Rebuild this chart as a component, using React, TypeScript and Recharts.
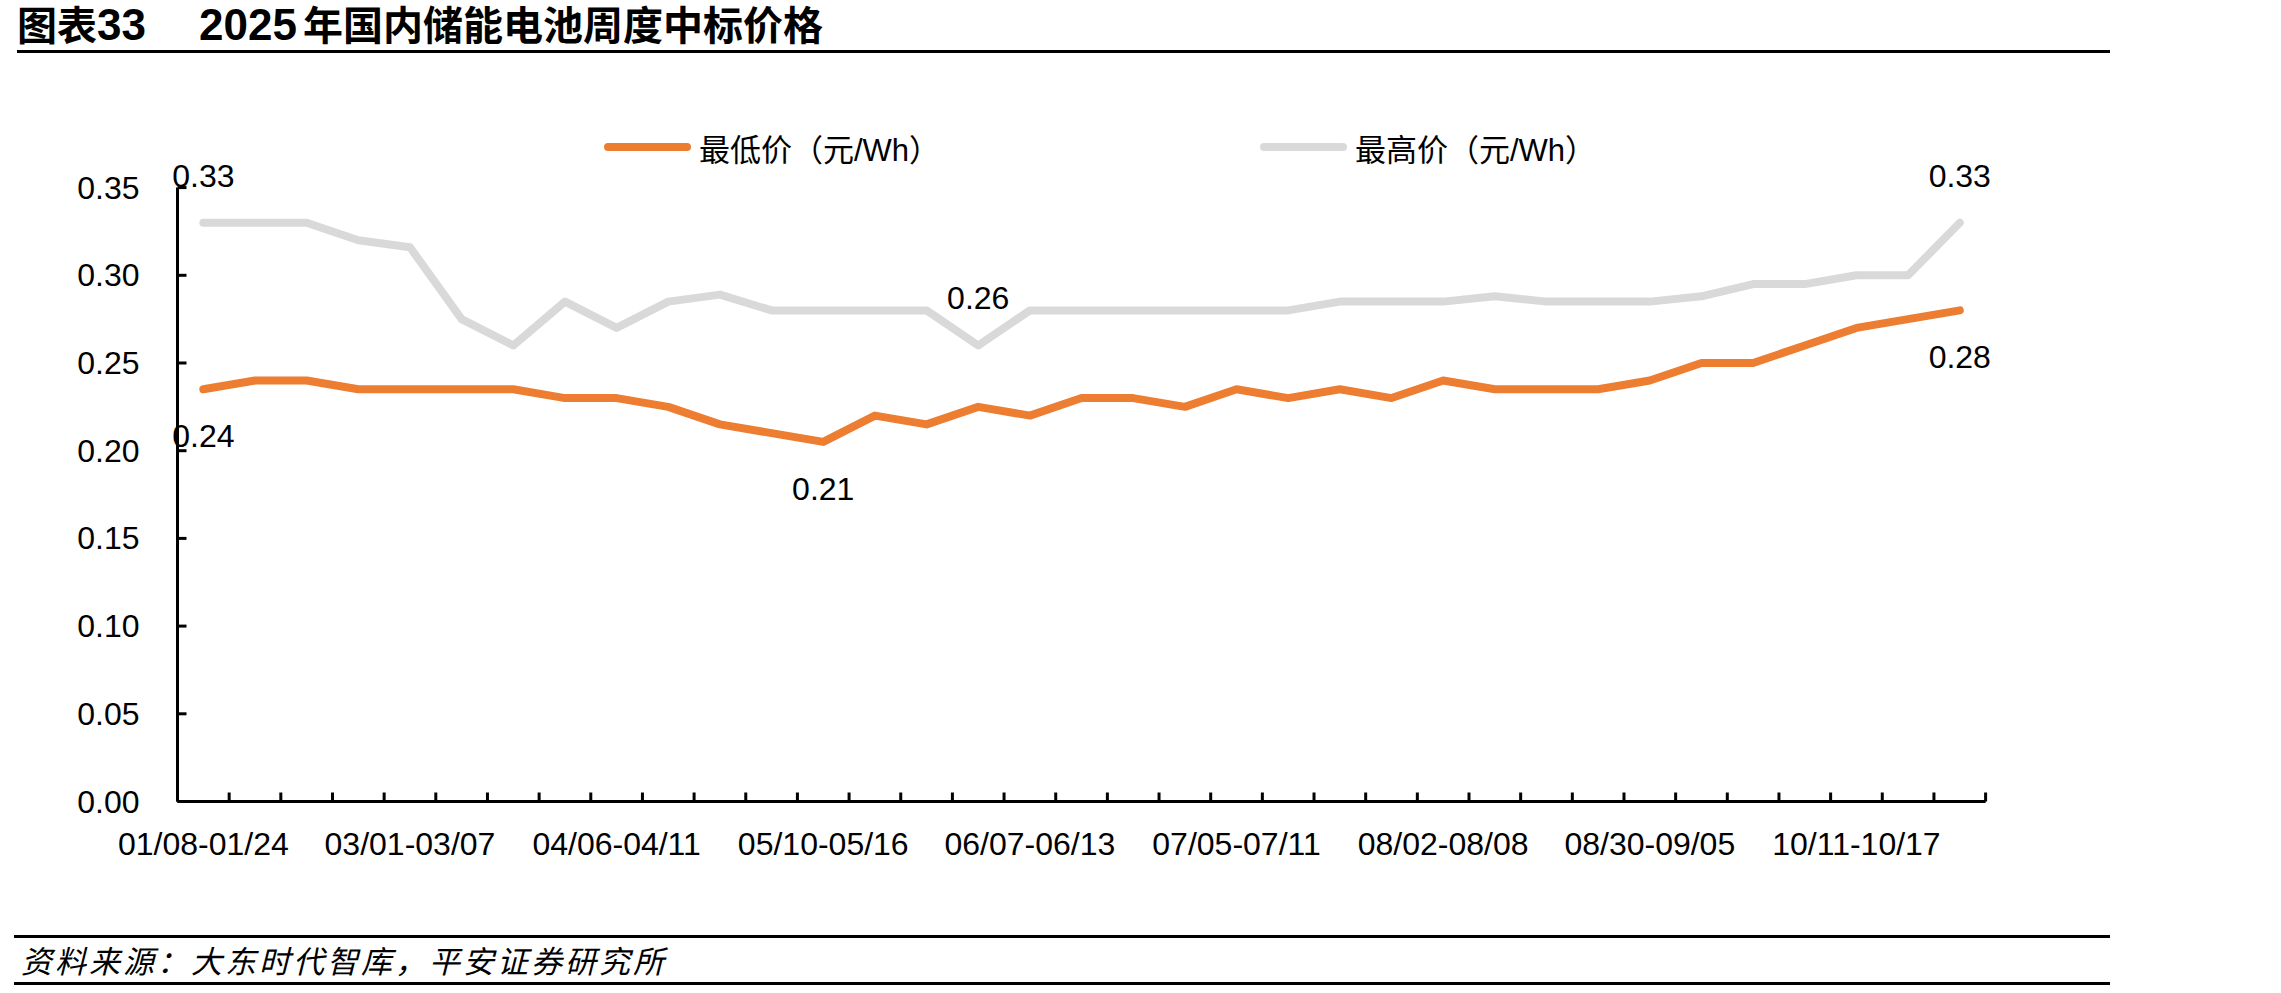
import React from "react"
import { LineChart, Line, XAxis, YAxis, Legend, LabelList } from "recharts"

const CATEGORIES = [
  "01/08-01/24", "01/25-02/14", "02/15-02/21", "02/22-02/28", "03/01-03/07",
  "03/08-03/14", "03/15-03/21", "03/22-03/28", "04/06-04/11", "04/12-04/18",
  "04/19-04/25", "04/26-05/09", "05/10-05/16", "05/17-05/23", "05/24-05/30",
  "05/31-06/06", "06/07-06/13", "06/14-06/20", "06/21-06/27", "06/28-07/04",
  "07/05-07/11", "07/12-07/18", "07/19-07/25", "07/26-08/01", "08/02-08/08",
  "08/09-08/15", "08/16-08/22", "08/23-08/29", "08/30-09/05", "09/06-09/12",
  "09/13-09/19", "09/20-09/26", "10/11-10/17", "10/18-10/24", "10/25-10/31",
]

// 最低价（元/Wh）
const LOW = [
  0.235, 0.24, 0.24, 0.235, 0.235, 0.235, 0.235, 0.23, 0.23, 0.225,
  0.215, 0.21, 0.205, 0.22, 0.215, 0.225, 0.22, 0.23, 0.23, 0.225,
  0.235, 0.23, 0.235, 0.23, 0.24, 0.235, 0.235, 0.235, 0.24, 0.25,
  0.25, 0.26, 0.27, 0.275, 0.28,
]

// 最高价（元/Wh）
const HIGH = [
  0.33, 0.33, 0.33, 0.32, 0.316, 0.275, 0.26, 0.285, 0.27, 0.285,
  0.289, 0.28, 0.28, 0.28, 0.28, 0.26, 0.28, 0.28, 0.28, 0.28,
  0.28, 0.28, 0.285, 0.285, 0.285, 0.288, 0.285, 0.285, 0.285, 0.288,
  0.295, 0.295, 0.3, 0.3, 0.33,
]

const Y_TICKS = [0, 0.05, 0.1, 0.15, 0.2, 0.25, 0.3, 0.35]
const LABEL_EVERY = 4
const LOW_LABELED = [0, 12, 34]
const HIGH_LABELED = [0, 15, 34]

const ORANGE = "#ED7D31"
const GRAY = "#D9D9D9"
const FONT = '"Liberation Sans", Arial, "Noto Sans CJK SC", sans-serif'

const data = CATEGORIES.map((name, i) => ({ idx: i, name, low: LOW[i], high: HIGH[i] }))

// tick marks sit on category boundaries, labels on every 4th category
const xTicks = [
  ...CATEGORIES.map((_, i) => i - 0.5),
  CATEGORIES.length - 0.5,
  ...CATEGORIES.map((_, i) => i).filter((i) => i % LABEL_EVERY === 0),
].sort((a, b) => a - b)

const fmt = (v: number) => (v + 1e-9).toFixed(2)

function XTick(props: any) {
  const { x, y, payload } = props
  const v = payload.value
  if (Number.isInteger(v)) {
    return (
      <text x={x} y={y + 53} textAnchor="middle" fontSize={32} fontFamily={FONT} fill="#000">
        {CATEGORIES[v]}
      </text>
    )
  }
  return <line x1={x} x2={x} y1={y} y2={y - 9} stroke="#000" strokeWidth={3} />
}

function YTick(props: any) {
  const { x, y, payload } = props
  return (
    <g>
      <line x1={x} x2={x + 9} y1={y} y2={y} stroke="#000" strokeWidth={3} />
      <text x={x - 38} y={y} textAnchor="end" dominantBaseline="central" fontSize={32} fontFamily={FONT} fill="#000">
        {payload.value.toFixed(2)}
      </text>
    </g>
  )
}

const makeLabel = (indices: number[], dy: number) => (props: any) => {
  const { x, y, value, index } = props
  if (!indices.includes(index)) return null
  return (
    <text x={x} y={y + dy} textAnchor="middle" dominantBaseline="central" fontSize={32} fontFamily={FONT} fill="#000">
      {fmt(value)}
    </text>
  )
}

function LegendBox() {
  const item = (left: number, color: string, label: string) => (
    <div style={{ position: "absolute", left, top: 0, display: "flex", alignItems: "center", height: 40 }}>
      <div style={{ width: 87, height: 8, borderRadius: 4, background: color, marginRight: 8 }} />
      <span style={{ fontSize: 31, fontFamily: FONT, color: "#000", whiteSpace: "nowrap" }}>{label}</span>
    </div>
  )
  return (
    <div style={{ position: "relative", width: 2281, height: 40 }}>
      {item(604, ORANGE, "最低价（元/Wh）")}
      {item(1260, GRAY, "最高价（元/Wh）")}
    </div>
  )
}

const titleStyle: React.CSSProperties = {
  position: "absolute",
  top: 2,
  fontSize: 40,
  fontWeight: "bold",
  fontFamily: FONT,
  whiteSpace: "nowrap",
  lineHeight: "46px",
}

export default function App() {
  return (
    <div style={{ position: "absolute", left: 0, top: 0, width: 2281, height: 993, background: "#fff", overflow: "hidden" }}>
      <div style={{ ...titleStyle, left: 17 }}>
        图表<span style={{ fontSize: 44 }}>33</span>
      </div>
      <div style={{ ...titleStyle, left: 199 }}>
        <span style={{ fontSize: 44, marginRight: 6 }}>2025</span>年国内储能电池周度中标价格
      </div>
      <div style={{ position: "absolute", left: 17, top: 50, width: 2093, height: 3, background: "#000" }} />

      <div style={{ position: "absolute", left: 0, top: 0 }}>
        <LineChart width={2281} height={993} data={data} margin={{ top: 187.6, right: 295.4, bottom: 131.5, left: 117.5 }}>
          <XAxis
            dataKey="idx"
            type="number"
            domain={[-0.5, CATEGORIES.length - 0.5]}
            ticks={xTicks}
            interval={0}
            height={60}
            tickSize={0}
            tickMargin={0}
            tickLine={false}
            axisLine={{ stroke: "#000", strokeWidth: 3 }}
            tick={<XTick />}
          />
          <YAxis
            domain={[0, 0.35]}
            ticks={Y_TICKS}
            interval={0}
            width={60}
            tickSize={0}
            tickMargin={0}
            tickLine={false}
            axisLine={{ stroke: "#000", strokeWidth: 3 }}
            tick={<YTick />}
          />
          <Legend
            layout="horizontal"
            verticalAlign="middle"
            align="center"
            content={<LegendBox />}
            wrapperStyle={{ position: "absolute", left: 0, top: 127, width: 2281 }}
          />
          <Line
            dataKey="low"
            name="最低价（元/Wh）"
            stroke={ORANGE}
            strokeWidth={8}
            strokeLinecap="round"
            strokeLinejoin="round"
            dot={false}
            activeDot={false}
            isAnimationActive={false}
          >
            <LabelList dataKey="low" content={makeLabel(LOW_LABELED, 47)} />
          </Line>
          <Line
            dataKey="high"
            name="最高价（元/Wh）"
            stroke={GRAY}
            strokeWidth={8}
            strokeLinecap="round"
            strokeLinejoin="round"
            dot={false}
            activeDot={false}
            isAnimationActive={false}
          >
            <LabelList dataKey="high" content={makeLabel(HIGH_LABELED, -47)} />
          </Line>
        </LineChart>
      </div>

      <div style={{ position: "absolute", left: 14, top: 935, width: 2096, height: 3, background: "#000" }} />
      <div style={{ position: "absolute", left: 21, top: 944, fontSize: 31, fontStyle: "italic", fontFamily: FONT, whiteSpace: "nowrap", lineHeight: "38px", letterSpacing: 3 }}>
        资料来源：大东时代智库，平安证券研究所
      </div>
      <div style={{ position: "absolute", left: 14, top: 982, width: 2096, height: 3, background: "#000" }} />
    </div>
  )
}
